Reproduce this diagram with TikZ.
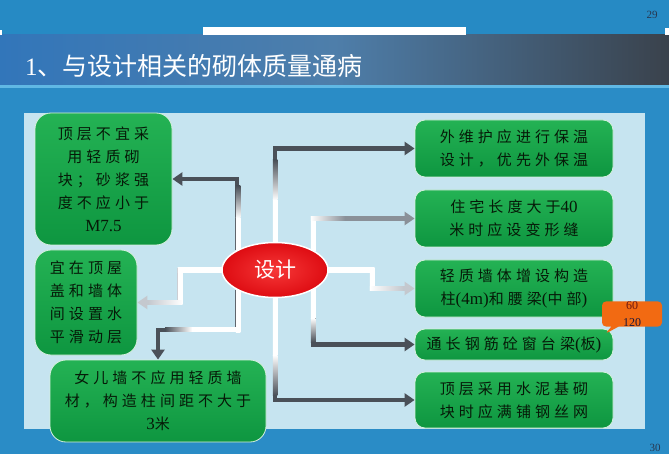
\documentclass[tikz,border=0pt]{standalone}
\usepackage{fontspec}
\setmainfont{Liberation Serif}
\newfontfamily\boxcjk[LetterSpace=27]{Noto Sans CJK SC}
\newfontfamily\plaincjk{Noto Sans CJK SC}
\usetikzlibrary{positioning,arrows.meta,shapes.geometric,shapes.callouts}

\definecolor{slideblue}{RGB}{42,140,198}
\definecolor{topblue}{RGB}{38,138,196}
\definecolor{bandleft}{RGB}{50,118,186}
\definecolor{bandmid}{RGB}{78,126,170}
\definecolor{bandright}{RGB}{58,66,76}
\definecolor{stripeblue}{RGB}{96,184,228}
\definecolor{panelblue}{RGB}{198,228,240}
\definecolor{boxtop}{RGB}{36,178,84}
\definecolor{boxbot}{RGB}{14,150,64}
\definecolor{boxedge}{RGB}{214,240,222}
\definecolor{boxtext}{RGB}{6,26,8}
\definecolor{ovalred}{RGB}{222,12,18}
\definecolor{ovalshine}{RGB}{246,56,56}
\definecolor{linkdark}{RGB}{74,80,88}
\definecolor{linkmid}{RGB}{138,144,152}
\definecolor{linklight}{RGB}{196,200,206}
\definecolor{noteorange}{RGB}{242,106,18}
\definecolor{notered}{RGB}{110,24,16}
\definecolor{notenavy}{RGB}{24,24,60}
\definecolor{pagegray}{RGB}{40,56,80}

\pgfdeclarelayer{backdrop}
\pgfdeclarelayer{links}
\pgfsetlayers{backdrop,links,main}

\newcommand{\ltn}[1]{{\rmfamily\fontsize{17}{23}\selectfont #1}}
% gradient pieces laid over the connectors
\newcommand{\fadev}[5]{\shade[top color=#4, bottom color=#5] (#1-2.25,#2) rectangle (#1+2.25,#3);}
\newcommand{\fadeh}[5]{\shade[left color=#4, right color=#5] (#1,#3-2.25) rectangle (#2,#3+2.25);}

\tikzset{
  box/.style={draw=boxedge, line width=0.8pt, rounded corners=10pt, top color=boxtop, bottom color=boxbot,
    text=boxtext, font=\boxcjk\fontsize{15}{23}\selectfont, align=center, inner sep=0pt},
  bigbox/.style={box, rounded corners=16pt},
  link/.style={line width=4.5pt, -{Triangle[length=10pt,width=13pt]}},
}

\begin{document}
\begin{tikzpicture}[x=1pt,y=-1pt]
\useasboundingbox (0,0) rectangle (669,454);

% Slide background, title band and light panel
\begin{pgfonlayer}{backdrop}
\fill[slideblue] (0,0) rectangle (669,454);
\fill[topblue] (0,0) rectangle (669,35);
\shade[left color=bandleft, right color=bandright, middle color=bandmid] (0,35) rectangle (669,85);
\fill[stripeblue] (0,85) rectangle (669,88);
\fill[white] (203,27) rectangle (466,35);
\fill[white] (0,30) rectangle (2,35);
\fill[white] (665,28) rectangle (669,35);
\fill[panelblue] (24,113) rectangle (645,429);
\end{pgfonlayer}

\node[anchor=west, text=white, font=\plaincjk\fontsize{25}{25}\selectfont, inner sep=0pt] (title) at (25,66)
  {{\rmfamily 1}、与设计相关的砌体质量通病};

% Centre oval
\node[ellipse, draw=white, line width=1.5pt, inner color=ovalshine, outer color=ovalred,
  minimum width=106pt, minimum height=55pt, inner sep=0pt, text=white,
  font=\plaincjk\fontsize{21}{21}\selectfont] (design) at (275,270) {设计};

% Left column
\node[bigbox, minimum width=137pt, minimum height=132pt] (L1) at (103.5,179)
  {顶层不宜采\\用轻质砌\\块；砂浆强\\度不应小于\\\ltn{M7.5}};
\node[bigbox, minimum width=102pt, minimum height=105pt] (L2) at (86,302.5)
  {宜在顶屋\\盖和墙体\\间设置水\\平滑动层};
\node[bigbox, minimum width=216pt, minimum height=82pt] (L3) at (158,401)
  {女儿墙不应用轻质墙\\材，构造柱间距不大于\\\ltn{3}米};

% Right column
\node[box, minimum width=198pt, minimum height=57pt] (R1) at (514,148.5)
  {外维护应进行保温\\设计，优先外保温};
\node[box, minimum width=198pt, minimum height=57pt] (R2) at (514,218.5)
  {住宅长度大于\ltn{40}\\米时应设变形缝};
\node[box, minimum width=198pt, minimum height=57pt] (R3) at (514,288.5)
  {轻质墙体增设构造\\柱\ltn{(4m)}和腰梁\ltn{(}中部\ltn{)}};
\node[box, minimum width=198pt, minimum height=31pt] (R4) at (514,344.5)
  {通长钢筋砼窗台梁\ltn{(}板\ltn{)}};
\node[box, minimum width=198pt, minimum height=56pt] (R5) at (514,400)
  {顶层采用水泥基砌\\块时应满铺钢丝网};

% Orange note
\node[rectangle callout, fill=noteorange, rounded corners=4pt, minimum width=60pt, minimum height=22pt,
  inner sep=0pt, callout absolute pointer={(605,334)}, align=center,
  font=\fontsize{12}{17}\selectfont] (note) at (632,314)
  {\textcolor{notered}{60}\\\textcolor{notenavy}{120}};

% Page numbers
\node[text=pagegray, font=\fontsize{11}{11}\selectfont] (pgtop) at (652,15) {29};
\node[text=pagegray, font=\fontsize{11}{11}\selectfont] (pgbot) at (655,448) {30};

% Connectors, white near the oval and darker towards the boxes
\begin{pgfonlayer}{links}
\draw[link, linkdark] (design.north) |- (R1.west);
\fadev{275}{200}{243}{white}{white}
\fadev{275}{160}{200}{linkdark}{white}

\draw[link, linkmid] (design.27) |- (R2.west);
\fadev{313}{216.25}{252}{white}{white}
\fadeh{310.75}{345}{218.5}{white}{linkmid}

\draw[link, linklight] (design.east) -- ++(44,0) |- (R3.west);
\fadeh{326}{374.25}{270}{white}{white}
\fadev{372}{267.75}{290.75}{white}{white}
\fadeh{369.75}{403}{288.5}{white}{linklight}

\draw[link, linkdark] (design.-27) |- (R4.west);
\fadev{313}{288}{318}{white}{white}
\fadev{313}{318}{342}{white}{linkdark}

\draw[link, linkdark] (design.south) |- (R5.west);
\fadev{275}{296}{355}{white}{white}
\fadev{275}{355}{395}{white}{linkdark}

\draw[link, linkdark] (design.152) |- (L1.east);
\fadev{238}{218}{252}{white}{white}
\fadev{238}{186}{218}{linkdark}{white}

\draw[link, linklight] (design.west) -- ++(-42,0) |- (L2.east);
\fadeh{177.75}{224}{270}{white}{white}
\fadev{180}{267.75}{304.75}{white}{white}
\fadeh{148}{182.25}{302.5}{linklight}{white}

\draw[link, linkdark] (design.208) -- ++(0,40) -| (L3.north);
\fadev{238}{288}{332}{white}{white}
\fadeh{192}{240.25}{329.7}{white}{white}
\fadeh{165}{192}{329.7}{linkdark}{white}
\end{pgfonlayer}

\end{tikzpicture}
\end{document}
